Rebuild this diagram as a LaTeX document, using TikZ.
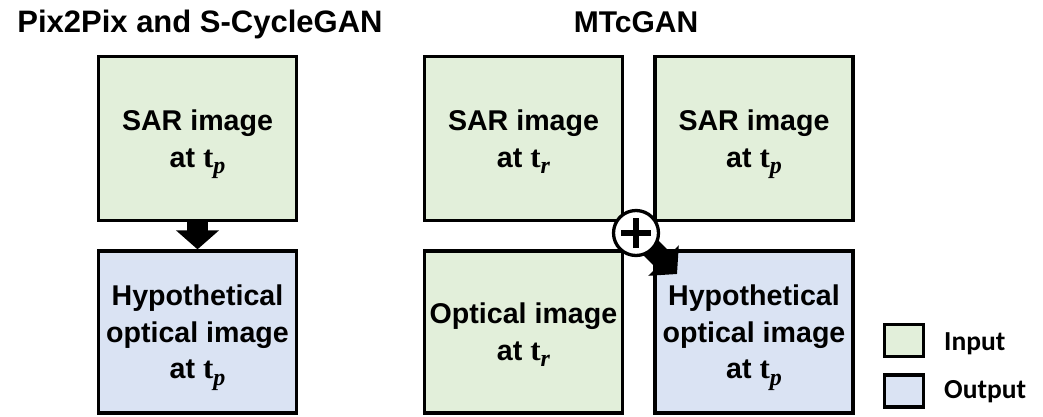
\documentclass[tikz,border=0pt]{standalone}
\usepackage{fontspec}
\setmainfont{Liberation Sans}
\newfontfamily\legendfont{Carlito}
\newfontfamily\serifont{Liberation Serif}
\usetikzlibrary{arrows.meta}
\definecolor{ingreen}{RGB}{226,239,218}
\definecolor{outblue}{RGB}{218,227,243}
\tikzset{
  imgbox/.style={draw=black, line width=3.3pt, minimum width=198pt, minimum height=164pt,
    inner sep=0pt, align=center, font=\fontsize{28.6}{36.5}\selectfont\bfseries},
  inbox/.style={imgbox, fill=ingreen},
  outbox/.style={imgbox, fill=outblue},
  titletext/.style={font=\fontsize{30}{34}\selectfont\bfseries, anchor=base, inner sep=0pt},
  bigarrow/.style={line width=21pt, -{Triangle[width=42pt,length=19pt]}, black},
  legbox/.style={draw=black, line width=3.3pt, minimum width=39pt, minimum height=32pt, inner sep=0pt},
  legtext/.style={font=\legendfont\fontsize{27.5}{30}\selectfont\bfseries, anchor=base west, inner sep=0pt},
}
\newcommand{\tsub}[1]{{\serifont\bfseries\fontsize{31}{31}\selectfont t}\smash{\raisebox{-0.22em}{\serifont\itshape\bfseries\fontsize{24}{24}\selectfont #1}}}
\begin{document}
\begin{tikzpicture}[x=1pt,y=-1pt]
\useasboundingbox (0,0) rectangle (1043,416);
% titles
\node[titletext, font=\fontsize{31}{34}\selectfont\bfseries] (t1) at (200,32) {Pix2Pix and S-CycleGAN};
\node[titletext] (t2) at (636,32) {MTcGAN};
% left column
\node[inbox] (sarL) at (197.5,138.8) {SAR image\\at \tsub{p}};
\node[outbox, minimum height=162pt] (hypL) at (197.5,332) {Hypothetical\\optical image\\at \tsub{p}};
% MTcGAN
\node[inbox] (sarR1) at (523.5,138.8) {SAR image\\at \tsub{r}};
\node[inbox] (sarR2) at (754,138.8) {SAR image\\at \tsub{p}};
\node[inbox, minimum height=162pt] (optR) at (523.5,332) {Optical image\\at \tsub{r}};
\node[outbox, minimum height=162pt] (hypR) at (754,332) {Hypothetical\\optical image\\at \tsub{p}};
% arrows
\draw[bigarrow] (sarL.south) -- (hypL.north);
\coordinate (plusc) at (636,233);
\coordinate (tipR) at (677,274);
\draw[bigarrow] (plusc) -- (tipR);
% plus circle
\node[circle, draw=black, line width=3.3pt, fill=white, minimum size=45pt, inner sep=0pt] (plus) at (plusc) {};
\draw[line width=6pt] ([xshift=-15pt]plus.center) -- ([xshift=15pt]plus.center);
\draw[line width=6pt] ([yshift=-15pt]plus.center) -- ([yshift=15pt]plus.center);
% legend
\node[legbox, fill=ingreen] (legIn) at (904,340.5) {};
\node[legbox, fill=outblue] (legOut) at (904,391) {};
\node[legtext] (legInT) at (944,350) {Input};
\node[legtext] (legOutT) at (944,398.5) {Output};
\end{tikzpicture}
\end{document}
